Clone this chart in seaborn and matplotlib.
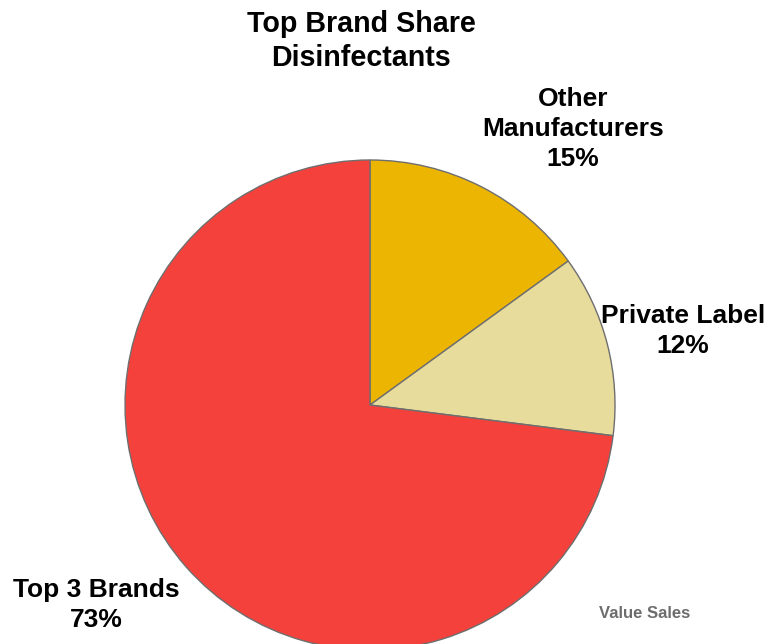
import matplotlib
matplotlib.use("Agg")
import matplotlib.pyplot as plt
import seaborn as sns

# data
segments = ["Other\nManufacturers", "Private Label", "Top 3 Brands"]
shares = [15, 12, 73]
colors = ["#EBB502", "#E8DC9C", "#F5413C"]

sns.set_style("white")
plt.rcParams['font.family'] = ['Liberation Sans', 'DejaVu Sans']

fig = plt.figure(figsize=(7.81, 6.44), dpi=100)
ax = fig.add_axes([0, 0, 1, 1])

# pie in pixel-like coordinates (y up)
ax.pie(shares, colors=colors, startangle=90, counterclock=False,
       center=(370, 239), radius=245,
       wedgeprops=dict(edgecolor="#6E6E6E", linewidth=1.0))
ax.set_xlim(0, 781)
ax.set_ylim(0, 644)
ax.set_aspect('auto')
ax.axis('off')

# labels (layout positions)
label_pos = [(573, 515), (683, 313), (96, 39)]
for name, val, (x, y) in zip(segments, shares, label_pos):
    ax.text(x, y, f"{name}\n{val}%", ha='center', va='center',
            fontsize=19, fontweight='bold', color='black', linespacing=1.33)

ax.text(361, 603, "Top Brand Share\nDisinfectants", ha='center', va='center',
        fontsize=20.6, fontweight='bold', color='black', linespacing=1.27)
ax.text(645, 30, "Value Sales", ha='center', va='center',
        fontsize=12, fontweight='bold', color='#6D6D6D')

fig.savefig("out.png", dpi=100)
